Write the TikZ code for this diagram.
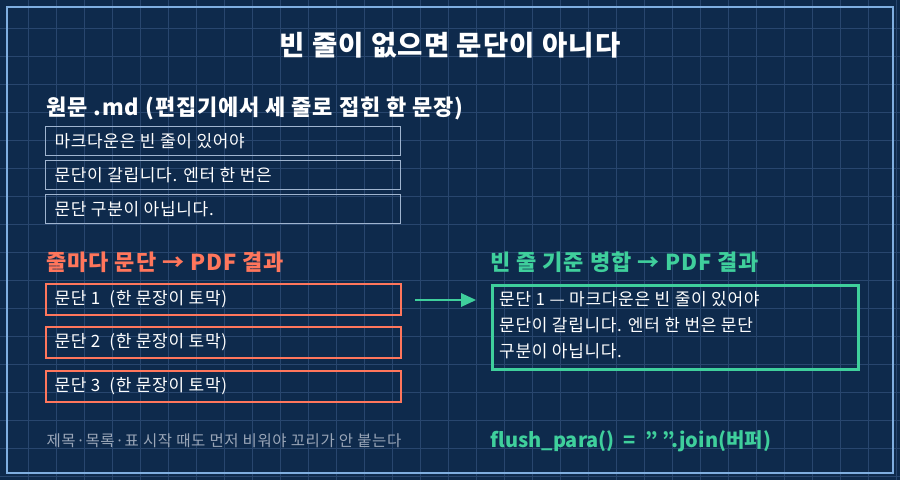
\documentclass[tikz,border=0pt]{standalone}
\usepackage{fontspec}
\setmainfont{Noto Sans CJK KR}
\newfontfamily\widefont[LetterSpace=4]{Noto Sans CJK KR}
\usetikzlibrary{positioning}
\definecolor{bgnavy}{HTML}{0E2A4C}
\definecolor{gridblue}{HTML}{28466E}
\definecolor{frameblue}{HTML}{7FAEE0}
\definecolor{srcgray}{HTML}{9FB4CF}
\definecolor{coral}{HTML}{FF765C}
\definecolor{mint}{HTML}{3FCF9C}
\definecolor{mutedtxt}{HTML}{9AA6B8}
\tikzset{
  srcbox/.style={draw=srcgray, line width=0.9pt, minimum width=355pt, minimum height=29pt, anchor=north west, inner sep=0pt},
  badbox/.style={draw=coral, line width=1.6pt, minimum width=355pt, minimum height=31pt, anchor=north west, inner sep=0pt},
  boxtext/.style={text=white, font=\widefont\fontsize{17}{19}\selectfont, anchor=west},
  heading/.style={font=\widefont\bfseries\fontsize{22}{24}\selectfont, anchor=west}
}
\begin{document}
\begin{tikzpicture}[x=1pt,y=-1pt]
\useasboundingbox (0,0) rectangle (900,480);
\fill[bgnavy] (0,0) rectangle (900,480);
% grid
\foreach \gx in {28,56,...,900} \draw[gridblue, line width=0.8pt] (\gx,0) -- (\gx,480);
\foreach \gy in {28,56,...,480} \draw[gridblue, line width=0.8pt] (0,\gy) -- (900,\gy);
\draw[frameblue, line width=1.6pt] (7,7) rectangle (893,473);

\node[text=white, font=\widefont\bfseries\fontsize{27.5}{30}\selectfont] (title) at (450,45) {빈 줄이 없으면 문단이 아니다};

% source lines
\node[heading, text=white] (srchead) at (43,108) {원문 .md (편집기에서 세 줄로 접힌 한 문장)};
\node[srcbox] (src1) at (45,126) {};
\node[srcbox] (src2) at (45,160) {};
\node[srcbox] (src3) at (45,194) {};
\node[boxtext] at ([xshift=6pt]src1.west) {마크다운은 빈 줄이 있어야};
\node[boxtext] at ([xshift=6pt]src2.west) {문단이 갈립니다. 엔터 한 번은};
\node[boxtext] at ([xshift=6pt]src3.west) {문단 구분이 아닙니다.};

% per-line result
\node[heading, text=coral] (badhead) at (43,262) {줄마다 문단 → PDF 결과};
\foreach \i/\yy in {1/283,2/326,3/370}{
  \node[badbox] (bad\i) at (45,\yy) {};
  \node[boxtext] at ([xshift=6pt]bad\i.west) {문단 \i\ \ (한 문장이 토막)};
}

% merged result
\node[heading, text=mint] (goodhead) at (487,262) {빈 줄 기준 병합 → PDF 결과};
\node[draw=mint, line width=2.6pt, minimum width=366pt, minimum height=84pt, anchor=north west, inner sep=0pt] (good) at (491,284) {};
\node[text=white, font=\widefont\fontsize{17}{26}\selectfont, align=left, anchor=north west, inner sep=0pt] (goodtxt) at (499,291) {문단 1 — 마크다운은 빈 줄이 있어야\\문단이 갈립니다. 엔터 한 번은 문단\\구분이 아닙니다.};
\coordinate (arrS) at (415,300);
\coordinate (arrE) at (476,300);
\draw[mint, line width=2.6pt] (arrS) -- ([xshift=-14pt]arrE);
\fill[mint] (arrE) -- ++(-15,-7) -- ++(0,14) -- cycle;

% footer
\node[text=mutedtxt, font=\widefont\fontsize{15.5}{17}\selectfont, anchor=west] (note) at (43,441) {제목·목록·표 시작 때도 먼저 비워야 꼬리가 안 붙는다};
\node[text=mint, font=\bfseries\fontsize{20}{22}\selectfont, anchor=west] (code) at (487,441) {flush\_para()\ \ =\ \ \symbol{34}\ \symbol{34}.join(버퍼)};
\end{tikzpicture}
\end{document}
